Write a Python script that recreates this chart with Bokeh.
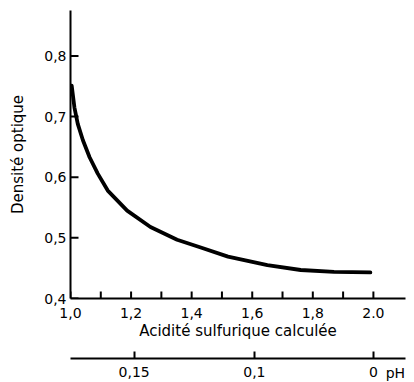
from bokeh.plotting import figure
from bokeh.layouts import column
from bokeh.models import Range1d, FixedTicker
from bokeh.core.properties import value
from bokeh.embed import file_html
from bokeh.resources import INLINE

# ---- data ----
acidity = [1.004, 1.013, 1.024, 1.041, 1.063, 1.090, 1.123, 1.187, 1.264,
           1.352, 1.43, 1.52, 1.65, 1.76, 1.87, 1.99]
density = [0.751, 0.715, 0.688, 0.661, 0.633, 0.606, 0.578, 0.545, 0.518,
           0.497, 0.484, 0.469, 0.455, 0.447, 0.444, 0.443]

y_ticks = [0.4, 0.5, 0.6, 0.7, 0.8]
y_labels = ["0,4", "0,5", "0,6", "0,7", "0,8"]
x_ticks = [1.0, 1.1, 1.2, 1.3, 1.4, 1.5, 1.6, 1.7, 1.8, 1.9, 2.0]
x_labels = ["1,0", "", "1,2", "", "1,4", "", "1,6", "", "1,8", "", "2.0"]
ph_ticks = [1.21, 1.607, 2.0]
ph_labels = ["0,15", "0,1", "0"]
ph_unit = "pH"

FONT = "DejaVu Sans"
X0, X1 = 1.0, 2.106
Y0, Y1 = 0.4, 0.875
FW, FH = 335, 288
XPX = (X1 - X0) / FW   # data units per pixel, x
YPX = (Y1 - Y0) / FH   # data units per pixel, y


def style_axis(ax, ticks, labels):
    ax.ticker = FixedTicker(ticks=list(ticks))
    ax.major_label_overrides = {t: l for t, l in zip(ticks, labels)}
    ax.major_tick_in = 0
    ax.major_tick_out = 0
    ax.minor_tick_line_color = None
    ax.axis_line_width = 2
    ax.axis_line_color = "black"
    ax.major_tick_line_color = "black"
    ax.major_tick_line_width = 2
    ax.major_label_text_font = FONT
    ax.major_label_text_font_size = "14px"
    ax.major_label_text_color = "black"
    ax.axis_label_text_font = FONT
    ax.axis_label_text_font_size = "15px"
    ax.axis_label_text_font_style = "normal"
    ax.axis_label_text_color = "black"


p = figure(frame_width=FW, frame_height=FH,
           x_range=Range1d(X0, X1), y_range=Range1d(Y0, Y1),
           min_border_left=70, min_border_right=9, min_border_top=10,
           min_border_bottom=52,
           output_backend="svg", toolbar_location=None)
p.outline_line_color = None
p.xgrid.visible = False
p.ygrid.visible = False

p.line(acidity, density, line_width=3.8, line_color="black",
       line_join="round", line_cap="round")

# inward tick marks on the y axis: short horizontal bars
p.rect(x=[X0 + 4 * XPX] * len(y_ticks), y=list(y_ticks),
       width=8, height=2, width_units="screen", height_units="screen",
       fill_color="black", line_color=None)
# inward tick marks on the x axis: short vertical bars
p.rect(x=list(x_ticks), y=[Y0 + 3.5 * YPX] * len(x_ticks),
       width=2, height=7, width_units="screen", height_units="screen",
       fill_color="black", line_color=None)

ya = p.yaxis[0]
style_axis(ya, y_ticks, y_labels)
ya.major_label_standoff = 4
ya.axis_label = "Densité optique"
ya.axis_label_standoff = 14

xa = p.xaxis[0]
style_axis(xa, x_ticks, x_labels)
xa.major_label_standoff = 9
xa.axis_label = "Acidité sulfurique calculée"
xa.axis_label_standoff = 1

# ---- pH scale below: axis on top of a small strip, ticks pointing up ----
p2 = figure(frame_width=FW, frame_height=24,
            x_range=p.x_range, y_range=Range1d(0, 1),
            min_border_left=70, min_border_right=9, min_border_top=8,
            min_border_bottom=0, x_axis_location="above",
            y_axis_location=None,
            output_backend="svg", toolbar_location=None)
p2.outline_line_color = None
p2.xgrid.visible = False
p2.ygrid.visible = False
xa2 = p2.xaxis[0]
style_axis(xa2, ph_ticks, ["" for _ in ph_ticks])
xa2.major_tick_out = 7
xa2.major_label_standoff = 0
xa2.major_label_text_font_size = "0px"

p2.text(x=list(ph_ticks), y=[0.42] * len(ph_ticks), text=ph_labels,
        text_font=value(FONT), text_font_size="14px", text_color="black",
        text_align="center", text_baseline="middle")
p2.text(x=[ph_ticks[-1]], y=[0.38], text=[ph_unit], x_offset=22,
        text_font=value(FONT), text_font_size="14px", text_color="black",
        text_align="center", text_baseline="middle")

layout = column(p, p2, spacing=0)
open("out.html", "w").write(file_html(layout, INLINE))
